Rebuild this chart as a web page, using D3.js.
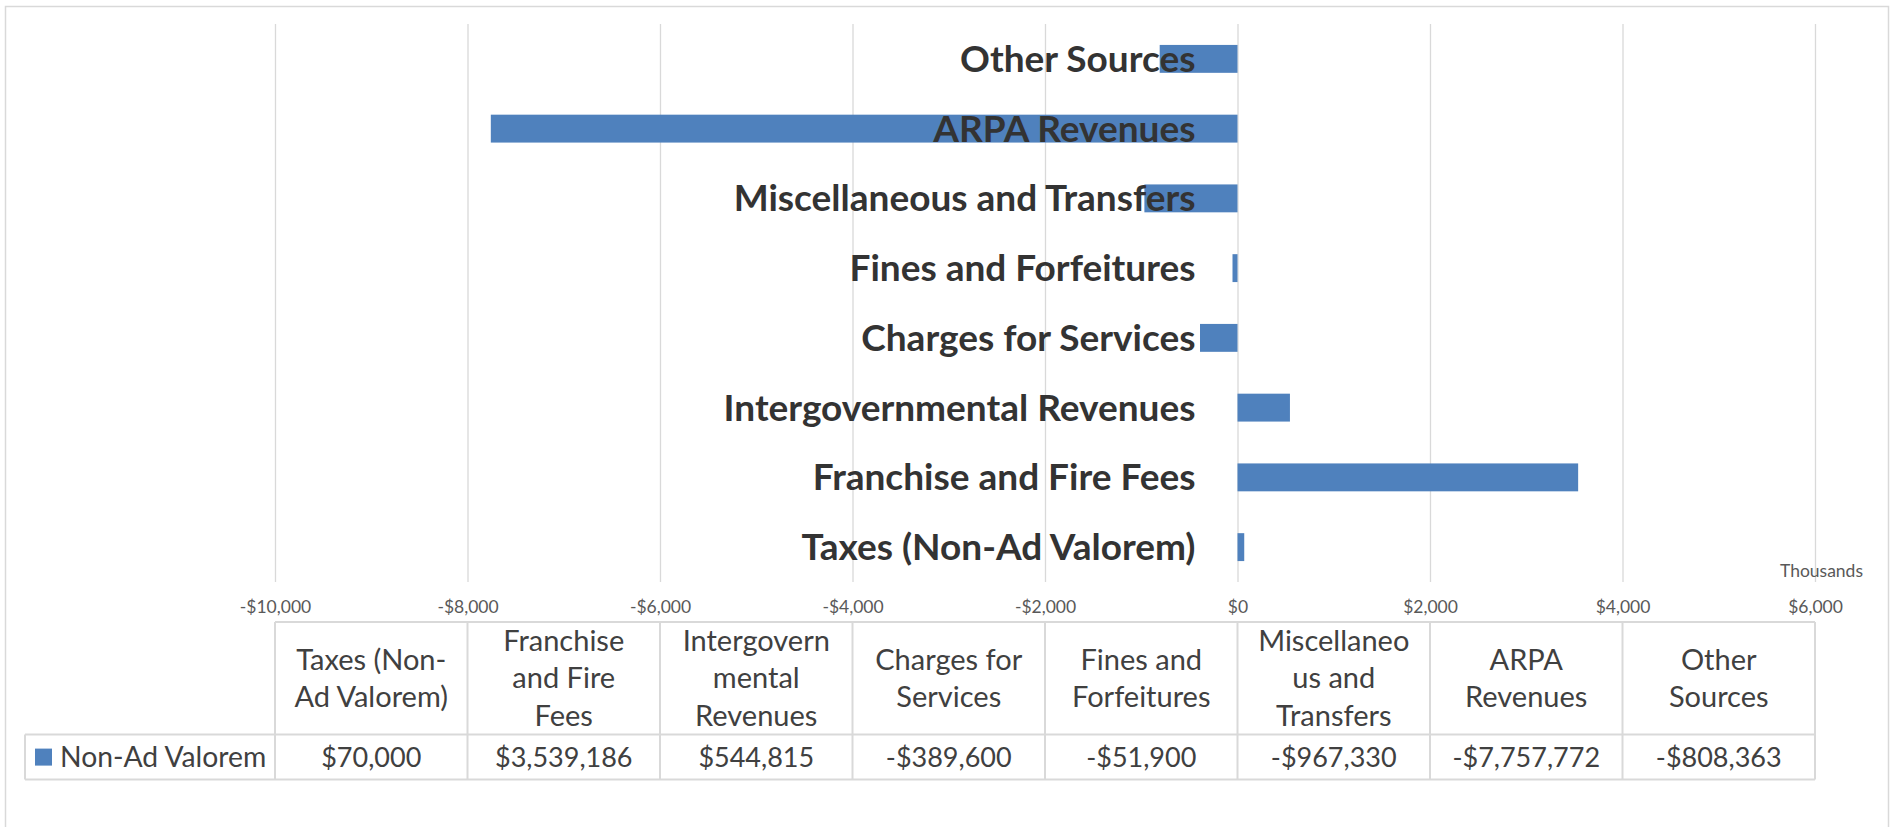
<!DOCTYPE html>
<html>
<head>
<meta charset="utf-8">
<script src="https://cdn.jsdelivr.net/npm/d3@7"></script>
<style>
  body { margin: 0; background: #fff; }
  text { font-family: Lato, "Open Sans", sans-serif; }
</style>
</head>
<body>
<svg id="chart" width="1898" height="827"></svg>
<script>
// data
var categories = ["Taxes (Non-Ad Valorem)", "Franchise and Fire Fees", "Intergovernmental Revenues",
  "Charges for Services", "Fines and Forfeitures", "Miscellaneous and Transfers", "ARPA Revenues", "Other Sources"];
var headerLines = [["Taxes (Non-", "Ad Valorem)"], ["Franchise", "and Fire", "Fees"], ["Intergovern", "mental", "Revenues"],
  ["Charges for", "Services"], ["Fines and", "Forfeitures"], ["Miscellaneo", "us and", "Transfers"],
  ["ARPA", "Revenues"], ["Other", "Sources"]];
var seriesName = "Non-Ad Valorem";
var values = [70000, 3539186, 544815, -389600, -51900, -967330, -7757772, -808363];
var xTicks = [-10000, -8000, -6000, -4000, -2000, 0, 2000, 4000, 6000];
var unitLabel = "Thousands";

var svg = d3.select("#chart"),
    margin = {top: 24, right: 83, bottom: 245, left: 275},
    width = +svg.attr("width") - margin.left - margin.right,
    height = +svg.attr("height") - margin.top - margin.bottom,
    g = svg.append("g").attr("transform", "translate(" + margin.left + "," + margin.top + ")");

var loc = d3.formatLocale({decimal: ".", thousands: ",", grouping: [3], currency: ["$", ""], minus: "-"});
var fmt = loc.format("$,.0f");

// outer frame
svg.append("rect")
    .attr("x", 5.5).attr("y", 6.5).attr("width", 1883).attr("height", 825)
    .attr("fill", "none").attr("stroke", "#d9d9d9").attr("stroke-width", 1.5);

var x = d3.scaleLinear()
    .domain([xTicks[0], xTicks[xTicks.length - 1]])
    .range([0, width]);

var y = d3.scaleBand()
    .domain(categories.slice().reverse())
    .range([0, height])
    .paddingInner(0.6)
    .paddingOuter(0.3);

var grid = d3.axisTop(x).tickValues(xTicks).tickSize(-height).tickFormat("");

g.append("g")
    .call(grid)
    .call(function(a) {
      a.select(".domain").remove();
      a.selectAll(".tick line").attr("stroke", "#d9d9d9").attr("stroke-width", 1.3);
    });

g.selectAll(".bar")
    .data(values)
  .enter().append("rect")
    .attr("class", "bar")
    .attr("x", function(d) { return x(Math.min(0, d / 1000)); })
    .attr("width", function(d) { return Math.abs(x(d / 1000) - x(0)); })
    .attr("y", function(d, i) { return y(categories[i]); })
    .attr("height", y.bandwidth())
    .attr("fill", "#4f81bd");

// category labels (bold, drawn over the bars)
g.selectAll(".cat")
    .data(categories)
  .enter().append("text")
    .attr("class", "cat")
    .attr("x", x(0) - 42)
    .attr("y", function(d) { return y(d) + y.bandwidth() / 2; })
    .attr("dy", "0.35em")
    .attr("text-anchor", "end")
    .attr("font-size", 37)
    .attr("font-weight", "bold")
    .attr("fill", "#333333")
    .text(function(d) { return d; });

// tick labels
var xAxis = d3.axisBottom(x).tickValues(xTicks).tickSize(0).tickFormat(function(d) { return fmt(d); });
g.append("g")
    .attr("transform", "translate(0," + (height + 25) + ")")
    .call(xAxis)
    .call(function(a) {
      a.select(".domain").remove();
      a.selectAll(".tick text").attr("font-size", 17.5).attr("fill", "#595959")
        .attr("font-family", "Lato, sans-serif").attr("dy", "0.35em").attr("y", 0);
    });

g.append("text")
    .attr("x", width + 48)
    .attr("y", height - 11)
    .attr("dy", "0.35em")
    .attr("text-anchor", "end")
    .attr("font-size", 17.5)
    .attr("fill", "#595959")
    .text(unitLabel);

// data table
var tTop = height + 40, hRow = 112.6, vRow = 45,
    colW = x(xTicks[1]) - x(xTicks[0]),
    lineCol = "#d9d9d9";
var table = g.append("g").attr("transform", "translate(0," + tTop + ")");

table.append("line").attr("x1", 0).attr("x2", width).attr("y1", 0).attr("y2", 0)
    .attr("stroke", lineCol).attr("stroke-width", 2);
table.append("line").attr("x1", 25 - margin.left).attr("x2", width).attr("y1", hRow).attr("y2", hRow)
    .attr("stroke", lineCol).attr("stroke-width", 2);
table.append("line").attr("x1", 25 - margin.left).attr("x2", width).attr("y1", hRow + vRow).attr("y2", hRow + vRow)
    .attr("stroke", lineCol).attr("stroke-width", 2);
table.append("line").attr("x1", 25 - margin.left).attr("x2", 25 - margin.left).attr("y1", hRow).attr("y2", hRow + vRow)
    .attr("stroke", lineCol).attr("stroke-width", 2);
table.selectAll(".sep")
    .data(xTicks)
  .enter().append("line")
    .attr("x1", function(d) { return x(d); })
    .attr("x2", function(d) { return x(d); })
    .attr("y1", 0).attr("y2", hRow + vRow)
    .attr("stroke", lineCol).attr("stroke-width", 2);

var cols = table.selectAll(".col")
    .data(categories)
  .enter().append("g")
    .attr("transform", function(d, i) { return "translate(" + (x(xTicks[0]) + colW * (i + 0.5)) + ",0)"; });

cols.append("text")
    .attr("text-anchor", "middle")
    .attr("font-size", 29)
    .attr("fill", "#404040")
    .each(function(d, i) {
      var lines = headerLines[i], t = d3.select(this);
      lines.forEach(function(l, j) {
        t.append("tspan")
          .attr("x", 0)
          .attr("y", hRow / 2 + (j - (lines.length - 1) / 2) * 37.5)
          .attr("dy", "0.35em")
          .text(l);
      });
    });

cols.append("text")
    .attr("y", hRow + vRow / 2)
    .attr("dy", "0.35em")
    .attr("text-anchor", "middle")
    .attr("font-size", 27)
    .attr("fill", "#404040")
    .text(function(d, i) { return fmt(values[i]); });

table.append("rect")
    .attr("x", 35 - margin.left).attr("y", hRow + vRow / 2 - 8.5)
    .attr("width", 17).attr("height", 17)
    .attr("fill", "#4f81bd");
table.append("text")
    .attr("x", 60 - margin.left).attr("y", hRow + vRow / 2)
    .attr("dy", "0.35em")
    .attr("font-size", 28.3)
    .attr("fill", "#404040")
    .text(seriesName);
</script>
</body>
</html>
